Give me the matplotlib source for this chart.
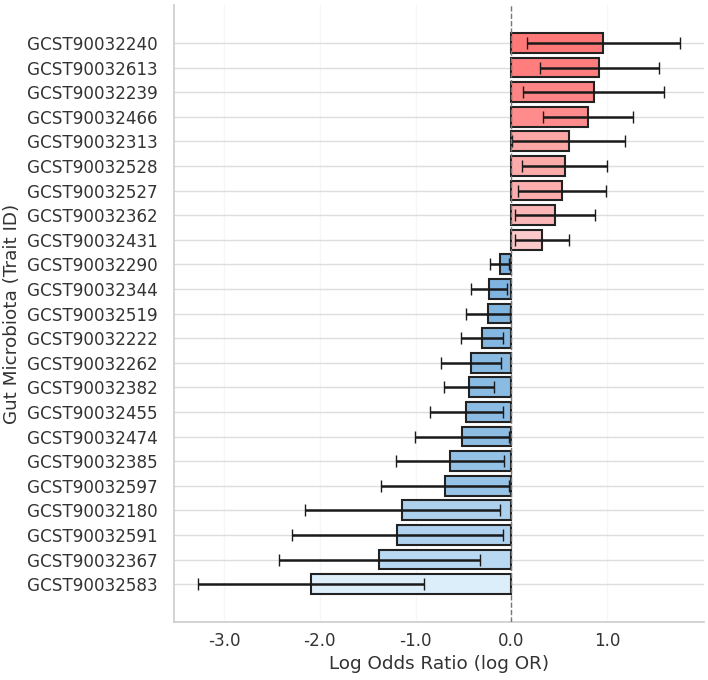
import matplotlib
matplotlib.use("Agg")
import matplotlib.pyplot as plt
import numpy as np
import seaborn as sns
from matplotlib.colors import to_rgb

trait_ids = ["GCST90032240", "GCST90032613", "GCST90032239", "GCST90032466",
             "GCST90032313", "GCST90032528", "GCST90032527", "GCST90032362",
             "GCST90032431", "GCST90032290", "GCST90032344", "GCST90032519",
             "GCST90032222", "GCST90032262", "GCST90032382", "GCST90032455",
             "GCST90032474", "GCST90032385", "GCST90032597", "GCST90032180",
             "GCST90032591", "GCST90032367", "GCST90032583"]
log_or = [0.96, 0.92, 0.86, 0.80, 0.60, 0.56, 0.53, 0.46, 0.32,
          -0.12, -0.23, -0.24, -0.31, -0.42, -0.44, -0.47, -0.515,
          -0.64, -0.69, -1.14, -1.19, -1.38, -2.09]
err = [0.80, 0.62, 0.735, 0.47, 0.59, 0.445, 0.455, 0.42, 0.285,
       0.10, 0.19, 0.23, 0.22, 0.316, 0.258, 0.379, 0.487,
       0.564, 0.67, 1.02, 1.10, 1.048, 1.183]

sns.set_theme(style="whitegrid")
plt.rcParams['font.family'] = ['DejaVu Sans']

fig = plt.figure(figsize=(7.08, 6.8), dpi=100)
ax = fig.add_axes([0.2458, 0.0853, 0.994 - 0.2458, 0.9926 - 0.0853])

vals = np.array(log_or)
pos_lo, pos_hi = np.array(to_rgb("#fac9c9")), np.array(to_rgb("#ff7878"))
neg_lo, neg_hi = np.array(to_rgb("#ddeefb")), np.array(to_rgb("#7ab1de"))
colors = []
pmin, pmax = vals[vals > 0].min(), vals[vals > 0].max()
nmin, nmax = np.abs(vals[vals < 0]).min(), np.abs(vals[vals < 0]).max()
for v in vals:
    if v > 0:
        t = (v - pmin) / (pmax - pmin)
        colors.append(pos_lo + t * (pos_hi - pos_lo))
    else:
        t = (nmax - abs(v)) / (nmax - nmin)
        colors.append(neg_lo + t * (neg_hi - neg_lo))

y = np.arange(len(trait_ids))
ax.barh(y, vals, height=0.8, color=colors, edgecolor="#222222", linewidth=1.5,
        xerr=err, error_kw=dict(ecolor="#1a1a1a", elinewidth=1.8, capsize=4, capthick=1.0),
        zorder=2)
ax.invert_yaxis()
ax.axvline(0, color="#777777", linestyle="--", linewidth=1.0, zorder=3)

ax.set_yticks(y)
ax.set_yticklabels(trait_ids)
ax.set_xticks([-3, -2, -1, 0, 1])
ax.set_xticklabels(["-3.0", "-2.0", "-1.0", "0.0", "1.0"])
ax.tick_params(axis='both', labelsize=12.1, colors="#333333", length=0)
ax.tick_params(axis='y', pad=12)
ax.tick_params(axis='x', pad=7)
ax.set_xlabel("Log Odds Ratio (log OR)", fontsize=13.2, color="#333333")
ax.set_ylabel("Gut Microbiota (Trait ID)", fontsize=13.2, color="#333333", labelpad=4)

ax.grid(axis='x', color="#eeeeee", alpha=0.5)
ax.grid(axis='y', color="#dddddd", linewidth=1.0)
ax.set_axisbelow(True)
for s in ["top", "right"]:
    ax.spines[s].set_visible(False)
for s in ["left", "bottom"]:
    ax.spines[s].set_color("#cccccc")
    ax.spines[s].set_linewidth(1.2)

fig.savefig("out.png", dpi=100)
